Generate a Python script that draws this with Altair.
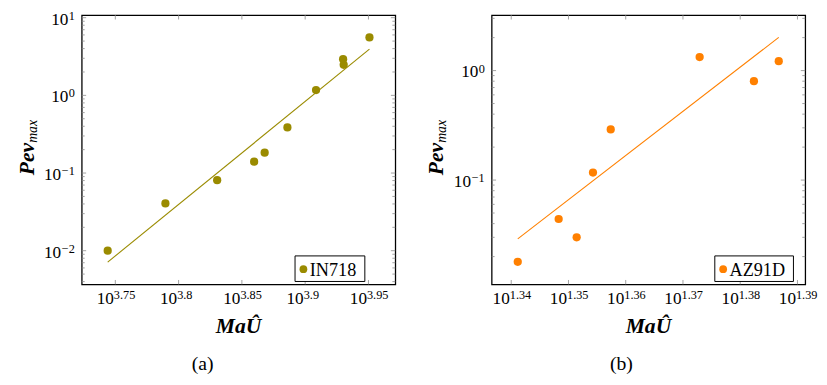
import math
import altair as alt
import pandas as pd

# ---------------- data ----------------
# Panel (a): IN718
in718_x = [5546, 6160, 6768, 7239, 7379, 7691, 8102, 8511, 8520, 8929]
in718_y = [0.0100, 0.0406, 0.081, 0.140, 0.183, 0.386, 1.17, 2.92, 2.47, 5.58]
in718_fit_x = [5546, 8929]
in718_fit_y = [0.00713, 3.94]
in718_x_domain = [5290, 9359]
in718_y_domain = [0.00368, 10.81]
in718_x_tick_exps = ["3.75", "3.8", "3.85", "3.9", "3.95"]
in718_y_tick_exps = [-2, -1, 0, 1]

# Panel (b): AZ91D
az91d_x = [21.935, 22.299, 22.461, 22.609, 22.771, 23.600, 24.121, 24.363]
az91d_y = [0.0179, 0.0441, 0.030, 0.117, 0.290, 1.33, 0.80, 1.22]
az91d_fit_x = [21.935, 24.363]
az91d_fit_y = [0.0290, 2.01]
az91d_x_domain = [21.706, 24.624]
az91d_y_domain = [0.01114, 3.214]
az91d_x_tick_exps = ["1.34", "1.35", "1.36", "1.37", "1.38", "1.39"]
az91d_y_tick_exps = [-1, 0]

# ---------------- style ----------------
W, H = 319, 274
FONT = "Liberation Serif"
MAIN_FS = 17.5
EXP_FS = 12.5
TICK_COLOR = "#8a8a8a"


def minor_ticks(dom):
    lo, hi = dom
    out = []
    for d in range(math.floor(math.log10(lo)) - 1, math.ceil(math.log10(hi)) + 1):
        for k in range(2, 10):
            v = k * 10.0 ** d
            if lo <= v <= hi:
                out.append(v)
    return out


def panel(xs, ys, fx, fy, xdom, ydom, xexps, yexps, color, name, caption,
          cap_x, leg_box, leg_dot_x, leg_txt_x):
    xsc = alt.Scale(type="log", domain=xdom, nice=False, zero=False)
    ysc = alt.Scale(type="log", domain=ydom, nice=False, zero=False)

    def X(f):
        return alt.X(f, type="quantitative", scale=xsc, axis=None)

    def Y(f):
        return alt.Y(f, type="quantitative", scale=ysc, axis=None)

    pts = pd.DataFrame({"x": xs, "y": ys})
    fit = pd.DataFrame({"x": fx, "y": fy})

    line = alt.Chart(fit).mark_line(color=color, strokeWidth=1.1).encode(x=X("x"), y=Y("y"))
    dots = alt.Chart(pts).mark_circle(size=70, color=color, opacity=1).encode(x=X("x"), y=Y("y"))

    # y ticks (major + minor), drawn inward on left and right
    ymaj = pd.DataFrame({"v": [10.0 ** e for e in yexps]})
    ymin = pd.DataFrame({"v": minor_ticks(ydom)})
    tick_layers = []
    for df, ln in ((ymaj, 4.5), (ymin, 3)):
        tick_layers.append(alt.Chart(df).mark_rule(color=TICK_COLOR, strokeWidth=0.8).encode(
            y=Y("v"), x=alt.value(0), x2=alt.value(ln)))
        tick_layers.append(alt.Chart(df).mark_rule(color=TICK_COLOR, strokeWidth=0.8).encode(
            y=Y("v"), x=alt.value(W - ln), x2=alt.value(W)))

    # x ticks, inward on bottom and top
    xt = pd.DataFrame({"v": [10.0 ** float(e) for e in xexps], "e": xexps})
    tick_layers.append(alt.Chart(xt).mark_rule(color=TICK_COLOR, strokeWidth=0.8).encode(
        x=X("v"), y=alt.value(H - 4.5), y2=alt.value(H)))
    tick_layers.append(alt.Chart(xt).mark_rule(color=TICK_COLOR, strokeWidth=0.8).encode(
        x=X("v"), y=alt.value(0), y2=alt.value(4.5)))

    # x tick labels: 10^{e}
    xl_base = alt.Chart(xt).mark_text(font=FONT, fontSize=MAIN_FS, align="right",
                                       baseline="alphabetic", dx=-1.5, color="black").encode(
        x=X("v"), y=alt.value(H + 20), text=alt.value("10"))
    xl_exp = alt.Chart(xt).mark_text(font=FONT, fontSize=EXP_FS, align="left",
                                      baseline="alphabetic", dx=-1.5, color="black").encode(
        x=X("v"), y=alt.value(H + 14.5), text="e:N")

    # y tick labels: 10^{e}, right aligned
    ylab_layers = []
    for nchar, base_x in ((1, -13.5), (2, -21)):
        sel = [e for e in yexps if len(str(abs(e))) + (1 if e < 0 else 0) == nchar]
        if not sel:
            continue
        df = pd.DataFrame({"v": [10.0 ** e for e in sel],
                           "e": [str(e).replace("-", "\u2212") for e in sel]})
        ylab_layers.append(alt.Chart(df).mark_text(font=FONT, fontSize=MAIN_FS, align="right",
                                                   baseline="alphabetic", dy=7, color="black").encode(
            y=Y("v"), x=alt.value(base_x), text=alt.value("10")))
        ylab_layers.append(alt.Chart(df).mark_text(font=FONT, fontSize=EXP_FS, align="right",
                                                   baseline="alphabetic", dy=2, color="black").encode(
            y=Y("v"), x=alt.value(-7), text="e:N"))

    one = pd.DataFrame({"label": [name], "cap": [caption]})

    xtitle = alt.Chart(one).mark_text(font=FONT, fontSize=22, fontStyle="italic", fontWeight="bold",
                                      align="center", baseline="alphabetic", color="black").encode(
        x=alt.value(W / 2), y=alt.value(H + 49), text=alt.value("MaÛ"))
    ytitle = alt.Chart(one).mark_text(font=FONT, fontSize=22, fontStyle="italic", fontWeight="bold",
                                      align="right", baseline="alphabetic", angle=270,
                                      color="black").encode(
        x=alt.value(-49), y=alt.value(130), text=alt.value("Peν"))
    ysub = alt.Chart(one).mark_text(font=FONT, fontSize=14, fontStyle="italic",
                                    align="left", baseline="alphabetic", angle=270, dy=3,
                                    color="black").encode(
        x=alt.value(-49), y=alt.value(130), text=alt.value("max"))

    cap = alt.Chart(one).mark_text(font=FONT, fontSize=20, align="center", baseline="alphabetic",
                                   color="black").encode(
        x=alt.value(cap_x), y=alt.value(H + 87), text="cap:N")

    x0, x1, y0, y1 = leg_box
    leg_rect = alt.Chart(one).mark_rect(fill="white", stroke="black", strokeWidth=1).encode(
        x=alt.value(x0), x2=alt.value(x1), y=alt.value(y0), y2=alt.value(y1))
    leg_dot = alt.Chart(one).mark_circle(size=62, color=color, opacity=1).encode(
        x=alt.value(leg_dot_x), y=alt.value((y0 + y1) / 2 + 0.5))
    leg_txt = alt.Chart(one).mark_text(font=FONT, fontSize=18.5, align="left", baseline="middle",
                                       color="black").encode(
        x=alt.value(leg_txt_x), y=alt.value((y0 + y1) / 2 + 1), text="label:N")

    return alt.layer(
        *tick_layers, line, dots, xl_base, xl_exp, *ylab_layers,
        xtitle, ytitle, ysub, cap, leg_rect, leg_dot, leg_txt
    ).properties(width=W, height=H)


pa = panel(in718_x, in718_y, in718_fit_x, in718_fit_y, in718_x_domain, in718_y_domain,
           in718_x_tick_exps, in718_y_tick_exps, "#9a8b00", "IN718", "(a)",
           123, (217, 288, 245, 271), 225.5, 232)
pb = panel(az91d_x, az91d_y, az91d_fit_x, az91d_fit_y, az91d_x_domain, az91d_y_domain,
           az91d_x_tick_exps, az91d_y_tick_exps, "#ff8000", "AZ91D", "(b)",
           132, (227, 307, 245, 271), 235.5, 242)

chart = alt.hconcat(pa, pb, spacing=28).properties(
    padding={"left": 7, "top": -2, "right": 0, "bottom": 0}
).configure_view(stroke="black", strokeWidth=1.3)

chart.save("out.html", embed_options={"renderer": "svg", "actions": False})
